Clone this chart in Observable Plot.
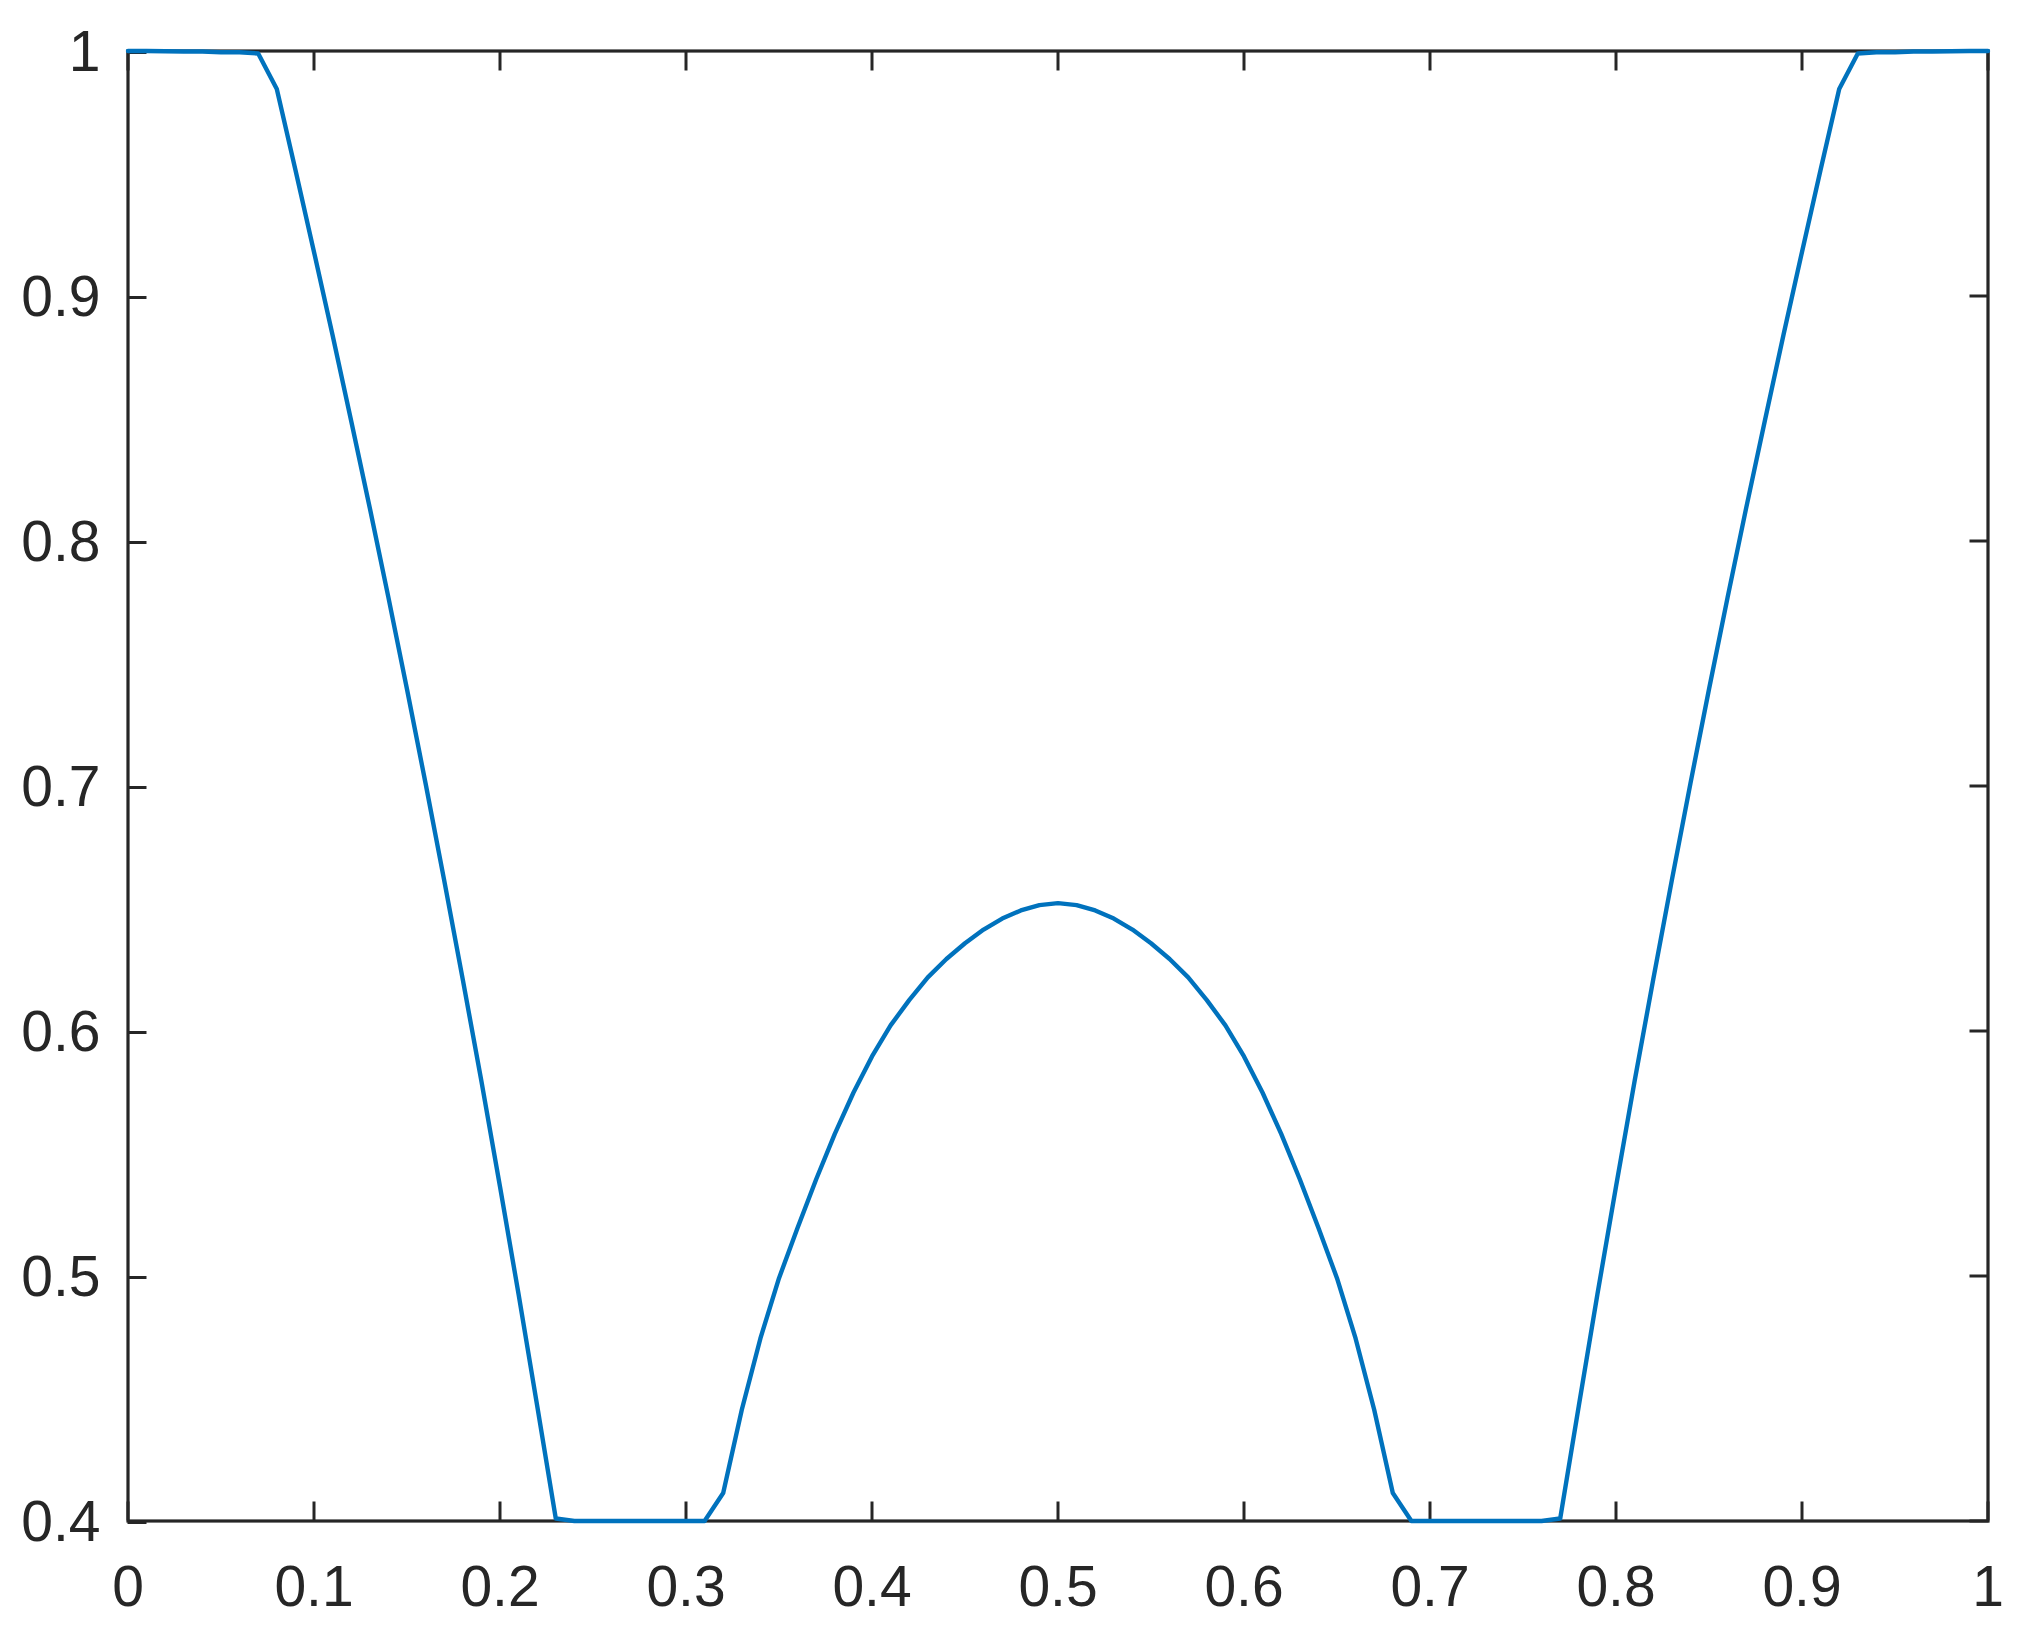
<!DOCTYPE html>
<html>
<head>
<meta charset="utf-8">
<script src="https://cdn.jsdelivr.net/npm/d3@7"></script>
<script src="https://cdn.jsdelivr.net/npm/@observablehq/plot@0.6"></script>
<style>
  html, body { margin: 0; padding: 0; background: #fff; }
  #chart { width: 2040px; height: 1648px; }
</style>
</head>
<body>
<div id="chart"></div>
<script>
const xValues = [
  0.00, 0.01, 0.02, 0.03, 0.04, 0.05, 0.06, 0.07, 0.08, 0.09,
  0.10, 0.11, 0.12, 0.13, 0.14, 0.15, 0.16, 0.17, 0.18, 0.19,
  0.20, 0.21, 0.22, 0.23, 0.24, 0.25, 0.26, 0.27, 0.28, 0.29,
  0.30, 0.31, 0.32, 0.33, 0.34, 0.35, 0.36, 0.37, 0.38, 0.39,
  0.40, 0.41, 0.42, 0.43, 0.44, 0.45, 0.46, 0.47, 0.48, 0.49,
  0.50, 0.51, 0.52, 0.53, 0.54, 0.55, 0.56, 0.57, 0.58, 0.59,
  0.60, 0.61, 0.62, 0.63, 0.64, 0.65, 0.66, 0.67, 0.68, 0.69,
  0.70, 0.71, 0.72, 0.73, 0.74, 0.75, 0.76, 0.77, 0.78, 0.79,
  0.80, 0.81, 0.82, 0.83, 0.84, 0.85, 0.86, 0.87, 0.88, 0.89,
  0.90, 0.91, 0.92, 0.93, 0.94, 0.95, 0.96, 0.97, 0.98, 0.99,
  1.00
];
const yValues = [
  1.0000, 1.0000, 0.9999, 0.9998, 0.9998, 0.9995, 0.9995, 0.9990, 0.9845, 0.9515,
  0.9180, 0.8840, 0.8490, 0.8135, 0.7770, 0.7395, 0.7010, 0.6615, 0.6210, 0.5795,
  0.5365, 0.4925, 0.4470, 0.4010, 0.4000, 0.4000, 0.4000, 0.4000, 0.4000, 0.4000,
  0.4000, 0.4000, 0.4114, 0.4454, 0.4745, 0.4991, 0.5197, 0.5395, 0.5580, 0.5748,
  0.5896, 0.6023, 0.6126, 0.6219, 0.6294, 0.6358, 0.6414, 0.6459, 0.6492, 0.6514,
  0.6522, 0.6514, 0.6492, 0.6459, 0.6414, 0.6358, 0.6294, 0.6219, 0.6126, 0.6023,
  0.5896, 0.5748, 0.5580, 0.5395, 0.5197, 0.4991, 0.4745, 0.4454, 0.4114, 0.4000,
  0.4000, 0.4000, 0.4000, 0.4000, 0.4000, 0.4000, 0.4000, 0.4010, 0.4470, 0.4925,
  0.5365, 0.5795, 0.6210, 0.6615, 0.7010, 0.7395, 0.7770, 0.8135, 0.8490, 0.8840,
  0.9180, 0.9515, 0.9845, 0.9990, 0.9995, 0.9995, 0.9998, 0.9998, 0.9999, 1.0000,
  1.0000
];
const xTicks = [0, 0.1, 0.2, 0.3, 0.4, 0.5, 0.6, 0.7, 0.8, 0.9, 1];
const xTickLabels = ["0", "0.1", "0.2", "0.3", "0.4", "0.5", "0.6", "0.7", "0.8", "0.9", "1"];
const yTicks = [0.4, 0.5, 0.6, 0.7, 0.8, 0.9, 1];
const yTickLabels = ["0.4", "0.5", "0.6", "0.7", "0.8", "0.9", "1"];

const data = xValues.map((x, i) => ({x, y: yValues[i]}));
const xFmt = (d) => { const i = xTicks.findIndex(t => Math.abs(t - d) < 1e-9); return i >= 0 ? xTickLabels[i] : ""; };
const yFmt = (d) => { const i = yTicks.findIndex(t => Math.abs(t - d) < 1e-9); return i >= 0 ? yTickLabels[i] : ""; };

const axisColor = "#262626";
const fs = 57;

const chart = Plot.plot({
  width: 2040,
  height: 1648,
  marginLeft: 127.5,
  marginRight: 52.5,
  marginTop: 50.5,
  marginBottom: 127.5,
  style: {fontFamily: "'Liberation Sans', Arial, Helvetica, sans-serif", fontSize: fs + "px", color: axisColor, background: "#fff"},
  x: {domain: [0, 1]},
  y: {domain: [0.4, 1]},
  marks: [
    Plot.axisX({anchor: "bottom", ticks: xTicks, tickFormat: xFmt, tickSize: -19, tickPadding: 64, strokeWidth: 3, fontSize: fs, label: null}),
    Plot.axisX({anchor: "top", ticks: xTicks, tickFormat: () => "", tickSize: -19, strokeWidth: 3, label: null}),
    Plot.axisY({anchor: "left", ticks: yTicks, tickFormat: yFmt, tickSize: -19, tickPadding: 46.5, dy: 1.5, strokeWidth: 3, fontSize: fs, label: null}),
    Plot.axisY({anchor: "right", ticks: yTicks, tickFormat: () => "", tickSize: -19, strokeWidth: 3, label: null}),
    Plot.frame({stroke: axisColor, strokeWidth: 3.2}),
    Plot.line(data, {x: "x", y: "y", stroke: "#0072BD", strokeWidth: 4.4, strokeLinejoin: "round"})
  ]
});
document.getElementById("chart").appendChild(chart);
</script>
</body>
</html>
